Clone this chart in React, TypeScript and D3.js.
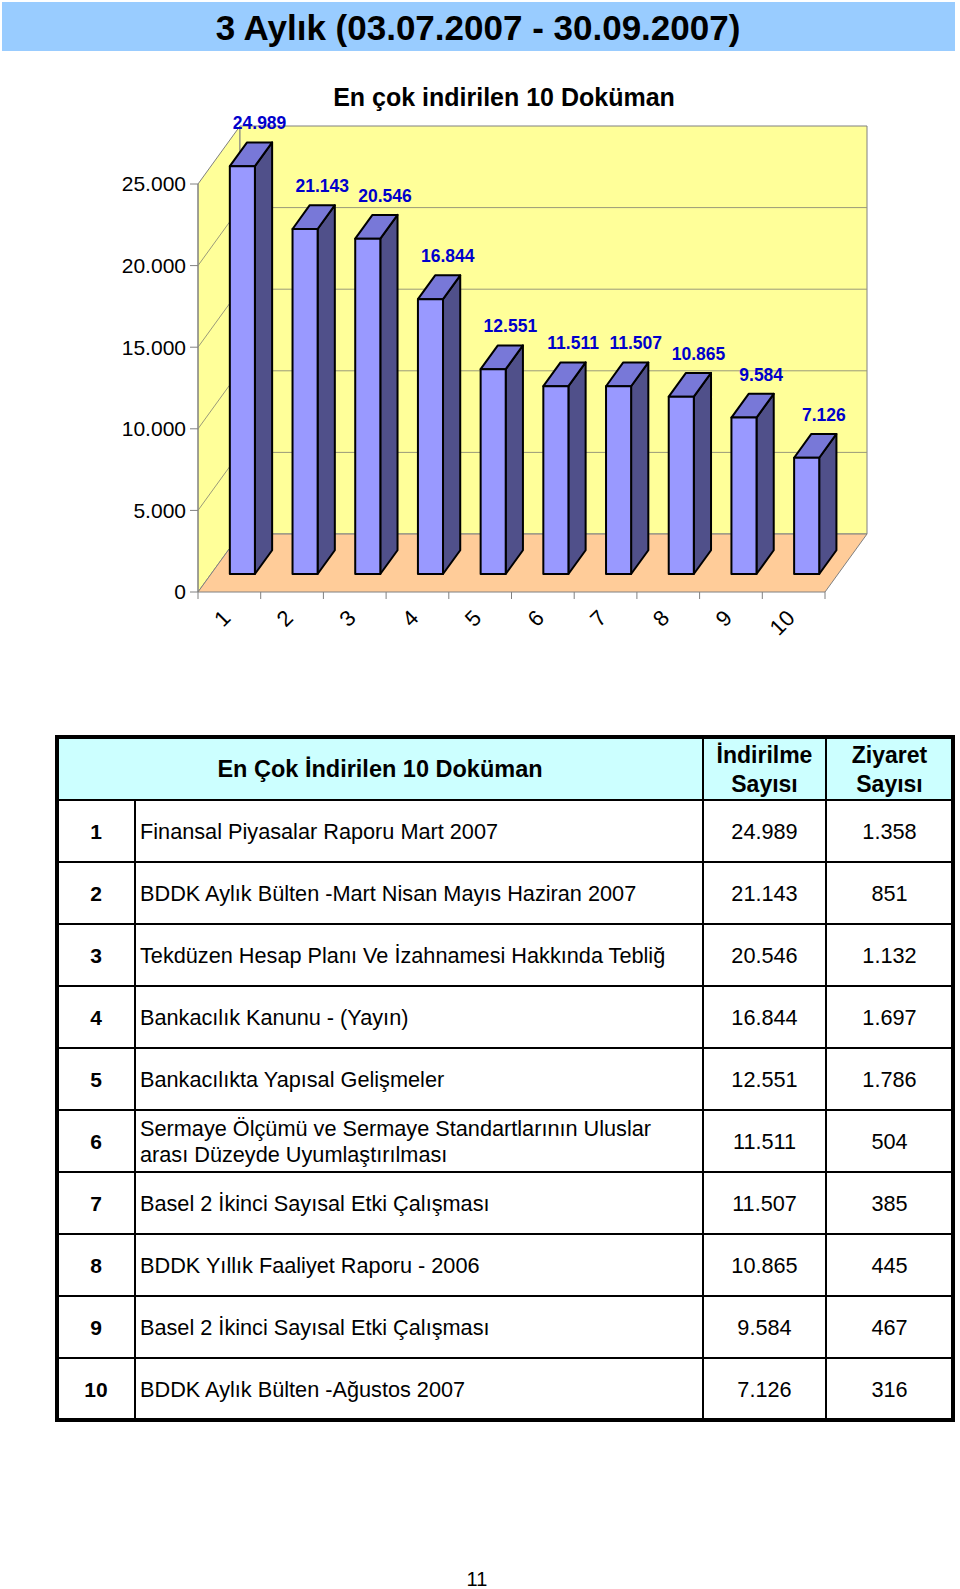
import React from 'react';
import * as d3 from 'd3';

const categories = ['1', '2', '3', '4', '5', '6', '7', '8', '9', '10'];
const downloads = [24989, 21143, 20546, 16844, 12551, 11511, 11507, 10865, 9584, 7126];
const visits = [1358, 851, 1132, 1697, 1786, 504, 385, 445, 467, 316];
const documents = [
  'Finansal Piyasalar Raporu Mart 2007',
  'BDDK Aylık Bülten -Mart Nisan Mayıs Haziran 2007',
  'Tekdüzen Hesap Planı Ve İzahnamesi Hakkında Tebliğ',
  'Bankacılık Kanunu - (Yayın)',
  'Bankacılıkta Yapısal Gelişmeler',
  'Sermaye Ölçümü ve Sermaye Standartlarının Uluslar\narası Düzeyde Uyumlaştırılması',
  'Basel 2 İkinci Sayısal Etki Çalışması',
  'BDDK Yıllık Faaliyet Raporu - 2006',
  'Basel 2 İkinci Sayısal Etki Çalışması',
  'BDDK Aylık Bülten -Ağustos 2007',
];
const yTicks = [0, 5000, 10000, 15000, 20000, 25000];
const pageTitle = '3 Aylık (03.07.2007 - 30.09.2007)';
const chartTitle = 'En çok indirilen 10 Doküman';
const tableHead = ['En Çok İndirilen 10 Doküman', 'İndirilme\nSayısı', 'Ziyaret\nSayısı'];

const FONT = '"Liberation Sans", Arial, sans-serif';

// turkish number style: 24.989
const trFormat = d3.formatLocale({ decimal: ',', thousands: '.', grouping: [3], currency: ['', ''] }).format(',d');

// chart geometry (front plane + oblique depth)
const X0 = 198, X1 = 825;
const DX = 42, DY = -58;
const T0 = 0.31, T1 = 0.72;

const y = d3.scaleLinear().domain([0, 25000]).range([592, 184]);
const xCat = d3.scaleBand<string>().domain(categories).range([X0, X1]);
const xBar = d3.scaleBand<string>().domain(categories).range([X0, X1]).paddingInner(0.6).paddingOuter(0.3);

const pts = (p: [number, number][]) => p.map(d => d.join(',')).join(' ');

function Chart() {
  const yMax = y(25000);
  const yMin = y(0);
  const walls = (
    <g stroke="#808080" strokeWidth={1}>
      <polygon points={pts([[X0, yMax], [X0 + DX, yMax + DY], [X0 + DX, yMin + DY], [X0, yMin]])} fill="#FFFF99" />
      <polygon points={pts([[X0 + DX, yMax + DY], [X1 + DX, yMax + DY], [X1 + DX, yMin + DY], [X0 + DX, yMin + DY]])} fill="#FFFF99" />
      {yTicks.slice(1, -1).map(v => (
        <g key={v} stroke="#9a9a7a">
          <line x1={X0} y1={y(v)} x2={X0 + DX} y2={y(v) + DY} />
          <line x1={X0 + DX} y1={y(v) + DY} x2={X1 + DX} y2={y(v) + DY} />
        </g>
      ))}
      <polygon points={pts([[X0, yMin], [X0 + DX, yMin + DY], [X1 + DX, yMin + DY], [X1, yMin]])} fill="#FFCC99" />
    </g>
  );

  const bars = categories.map((c, i) => {
    const v = downloads[i];
    const bx = xBar(c)! + DX * T0;
    const bw = xBar.bandwidth();
    const bBot = y(0) + DY * T0;
    const bTop = y(v) + DY * T0;
    const ddx = DX * (T1 - T0);
    const ddy = DY * (T1 - T0);
    return (
      <g key={c} stroke="#000" strokeWidth={2} strokeLinejoin="round">
        <polygon points={pts([[bx + bw, bTop], [bx + bw + ddx, bTop + ddy], [bx + bw + ddx, bBot + ddy], [bx + bw, bBot]])} fill="#50508A" />
        <polygon points={pts([[bx, bTop], [bx + ddx, bTop + ddy], [bx + bw + ddx, bTop + ddy], [bx + bw, bTop]])} fill="#7878D8" />
        <rect x={bx} y={bTop} width={bw} height={bBot - bTop} fill="#9999FF" />
        <text x={bx + bw / 2 + ddx} y={bTop + ddy - 13} textAnchor="middle" fill="#0000CC" stroke="none"
          fontSize={17.5} fontWeight="bold">{trFormat(v)}</text>
      </g>
    );
  });

  return (
    <g fontFamily={FONT}>
      <text x={504} y={106} textAnchor="middle" fontSize={25} fontWeight="bold">{chartTitle}</text>
      {walls}
      <line x1={X0} y1={yMax} x2={X0} y2={yMin} stroke="#808080" />
      {yTicks.map(v => (
        <g key={v}>
          <line x1={X0 - 8} x2={X0} y1={y(v)} y2={y(v)} stroke="#808080" />
          <text x={186} y={y(v)} dy="0.35em" textAnchor="end" fontSize={21}>{trFormat(v)}</text>
        </g>
      ))}
      {categories.map(c => (
        <line key={c} x1={xCat(c)!} x2={xCat(c)!} y1={yMin} y2={yMin + 7} stroke="#808080" />
      ))}
      <line x1={X1} x2={X1} y1={yMin} y2={yMin + 7} stroke="#808080" />
      {bars}
      {categories.map(c => {
        const cx = xCat(c)! + xCat.bandwidth() / 2;
        return (
          <text key={c} transform={`translate(${cx - 3},${yMin + 22}) rotate(-45)`} textAnchor="end" dy="0.35em"
            fontSize={22}>{c}</text>
        );
      })}
    </g>
  );
}

function Table() {
  const L = 57, C1 = 135, C2 = 703, C3 = 826, R = 953;
  const top = 737, headB = 800;
  const rowH = (1420 - headB) / categories.length;
  const rows = d3.range(categories.length);
  const rowY = (i: number) => headB + i * rowH;
  const lines = (s: string, cx: number, cy: number, anchor: string, size: number, weight: string, gap: number) => {
    const parts = s.split('\n');
    return parts.map((p, k) => (
      <text key={k} x={cx} y={cy + (k - (parts.length - 1) / 2) * gap} dy="0.36em" textAnchor={anchor}
        fontSize={size} fontWeight={weight}>{p}</text>
    ));
  };
  return (
    <g fontFamily={FONT}>
      <rect x={L} y={top} width={R - L} height={headB - top} fill="#CCFFFF" />
      {lines(tableHead[0], (L + C2) / 2, (top + headB) / 2, 'middle', 23.5, 'bold', 29)}
      {lines(tableHead[1], (C2 + C3) / 2, (top + headB) / 2 + 1, 'middle', 23, 'bold', 29)}
      {lines(tableHead[2], (C3 + R) / 2, (top + headB) / 2 + 1, 'middle', 23, 'bold', 29)}
      {rows.map(i => {
        const cy = rowY(i) + rowH / 2;
        return (
          <g key={i}>
            {lines(categories[i], (L + C1) / 2, cy, 'middle', 21, 'bold', 26)}
            {lines(documents[i], C1 + 5, cy, 'start', 21.7, 'normal', 26)}
            {lines(trFormat(downloads[i]), (C2 + C3) / 2, cy, 'middle', 21.7, 'normal', 26)}
            {lines(trFormat(visits[i]), (C3 + R) / 2, cy, 'middle', 21.7, 'normal', 26)}
          </g>
        );
      })}
      <g stroke="#000" strokeWidth={2}>
        <line x1={L} x2={R} y1={headB} y2={headB} />
        {rows.slice(1).map(i => <line key={i} x1={L} x2={R} y1={rowY(i)} y2={rowY(i)} />)}
        <line x1={C1} x2={C1} y1={headB} y2={1420} />
        <line x1={C2} x2={C2} y1={top} y2={1420} />
        <line x1={C3} x2={C3} y1={top} y2={1420} />
      </g>
      <rect x={L} y={top} width={R - L} height={1420 - top} fill="none" stroke="#000" strokeWidth={4} />
    </g>
  );
}

export default function App() {
  return (
    <svg width={960} height={1589} style={{ position: 'absolute', left: 0, top: 0, display: 'block', background: '#fff' }}>
      <rect x={2} y={2} width={953} height={49} fill="#99CCFF" />
      <text x={478} y={40} textAnchor="middle" fontFamily={FONT} fontSize={35} fontWeight="bold">{pageTitle}</text>
      <Chart />
      <Table />
      <text x={477} y={1586} textAnchor="middle" fontFamily={FONT} fontSize={20}>11</text>
    </svg>
  );
}
